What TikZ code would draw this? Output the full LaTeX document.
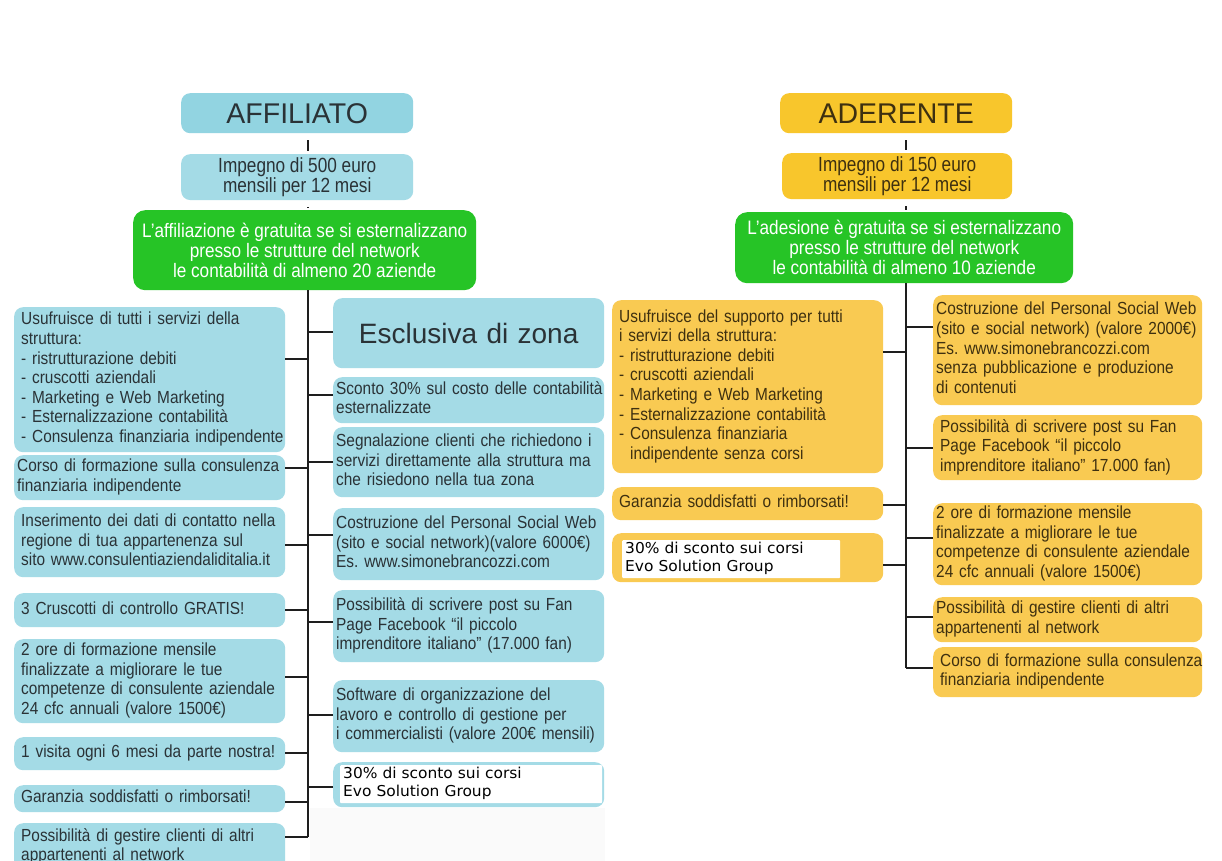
\documentclass[tikz,border=0pt]{standalone}
\usepackage{fontspec}
\setmainfont{Liberation Sans}[FakeStretch=0.88]
\newfontfamily\widef{Liberation Sans}
\newfontfamily\impf{Liberation Sans}[FakeStretch=0.84]
\newfontfamily\evof{DejaVu Sans}[FakeStretch=1.03]
\frenchspacing
\newcommand\lns[1]{\begin{tabular}{@{}l@{}}#1\end{tabular}}
\definecolor{cyanbox}{RGB}{164,219,230}
\definecolor{cyanhead}{RGB}{146,212,225}
\definecolor{goldbox}{RGB}{249,202,82}
\definecolor{goldhead}{RGB}{248,198,44}
\definecolor{greenbox}{RGB}{38,196,38}
\definecolor{cytext}{RGB}{42,50,54}
\definecolor{gdtext}{RGB}{62,48,16}
\definecolor{linec}{RGB}{30,30,30}
\tikzset{
  base/.style={rounded corners=9pt, inner xsep=7pt, inner ysep=1pt, align=left,
    font=\fontsize{17.5}{19.6}\selectfont, anchor=north west},
  cy/.style={base, fill=cyanbox, text=cytext},
  gd/.style={base, fill=goldbox, text=gdtext},
  head/.style={rounded corners=9pt, anchor=north west, align=center,
    font=\widef\fontsize{28.5}{30}\selectfont},
  imp/.style={rounded corners=9pt, anchor=north west, align=center,
    font=\impf\fontsize{20.5}{18.5}\selectfont},
  grn/.style={rounded corners=12pt, anchor=north west, align=center, fill=greenbox,
    text=white, font=\fontsize{19.5}{20}\selectfont},
  evo/.style={anchor=north west, fill=white, align=left, inner xsep=3pt, inner ysep=1pt,
    font=\evof\fontsize{15}{18}\selectfont, text=black, rounded corners=1pt},
  conn/.style={draw=linec, line width=1.4pt},
}
\begin{document}
\begin{tikzpicture}[x=1pt,y=-1pt]
\clip (0,0) rectangle (1222,861);
\fill[white] (0,0) rectangle (1222,861);
\fill[black!2] (310,808) rectangle (605,861);

% ---------------- LEFT: AFFILIATO ----------------
\node[head, fill=cyanhead, text=cytext, minimum width=232pt, minimum height=40pt] (aff) at (181,93) {AFFILIATO};
\node[imp, fill=cyanbox, text=cytext, minimum width=232pt, minimum height=43pt] (imp1) at (181,154) {Impegno di 500 euro\\mensili per 12 mesi};
\node[grn, minimum width=343pt, minimum height=80pt] (g1) at (133,210) {L'affiliazione è gratuita se si esternalizzano\\presso le strutture del network\\le contabilità di almeno 20 aziende};

\coordinate (tL) at (308,290);
\coordinate (tLend) at (308,837);

\node[cy, minimum width=271pt, minimum height=145pt, text width=257pt] (u1) at (14,307) {\lns{Usufruisce di tutti i servizi della\\struttura:\\- ristrutturazione debiti\\- cruscotti aziendali\\- Marketing e Web Marketing\\- Esternalizzazione contabilità\\- Consulenza finanziaria indipendente}};
\node[cy, minimum width=271pt, minimum height=45pt, text width=265pt, inner xsep=3pt] (u2) at (14,455) {\lns{Corso di formazione sulla consulenza\\finanziaria indipendente}};
\node[cy, minimum width=271pt, minimum height=70pt, text width=257pt] (u3) at (14,507) {\lns{Inserimento dei dati di contatto nella\\regione di tua appartenenza sul\\sito www.consulentiaziendaliditalia.it}};
\node[cy, minimum width=271pt, minimum height=34pt, text width=257pt] (u4) at (14,593) {\lns{3 Cruscotti di controllo GRATIS!}};
\node[cy, minimum width=271pt, minimum height=84pt, text width=257pt] (u5) at (14,639) {\lns{2 ore di formazione mensile\\finalizzate a migliorare le tue\\competenze di consulente aziendale\\24 cfc annuali (valore 1500€)}};
\node[cy, minimum width=271pt, minimum height=33pt, text width=257pt] (u6) at (14,737) {\lns{1 visita ogni 6 mesi da parte nostra!}};
\node[cy, minimum width=271pt, minimum height=27pt, text width=257pt] (u7) at (14,785) {\lns{Garanzia soddisfatti o rimborsati!}};
\node[cy, minimum width=271pt, minimum height=48pt, text width=257pt] (u8) at (14,823) {\lns{Possibilità di gestire clienti di altri\\appartenenti al network}};

\node[cy, minimum width=271pt, minimum height=70pt, text width=257pt, align=center,
  font=\widef\fontsize{28}{30}\selectfont] (m1) at (333,298) {Esclusiva di zona};
\node[cy, minimum width=271pt, minimum height=46pt, text width=265pt, inner xsep=3pt] (m2) at (333,377) {\lns{Sconto 30\% sul costo delle contabilità\\esternalizzate}};
\node[cy, minimum width=271pt, minimum height=70pt, text width=265pt, inner xsep=3pt] (m3) at (333,427) {\lns{Segnalazione clienti che richiedono i\\servizi direttamente alla struttura ma\\che risiedono nella tua zona}};
\node[cy, minimum width=271pt, minimum height=72pt, text width=265pt, inner xsep=3pt] (m4) at (333,508) {\lns{Costruzione del Personal Social Web\\(sito e social network)(valore 6000€)\\Es. www.simonebrancozzi.com}};
\node[cy, minimum width=271pt, minimum height=72pt, text width=265pt, inner xsep=3pt] (m5) at (333,590) {\lns{Possibilità di scrivere post su Fan\\Page Facebook “il piccolo\\imprenditore italiano” (17.000 fan)}};
\node[cy, minimum width=271pt, minimum height=72pt, text width=265pt, inner xsep=3pt] (m6) at (333,680) {\lns{Software di organizzazione del\\lavoro e controllo di gestione per\\i commercialisti (valore 200€ mensili)}};
\node[cy, minimum width=271pt, minimum height=45pt] (m7) at (333,762) {};
\node[evo, minimum width=262pt, minimum height=37pt, text width=256pt] (m7t) at (340,765) {\lns{30\% di sconto sui corsi\\Evo Solution Group}};

% connectors left
\draw[conn] ([yshift=-7pt]aff.south -| tL) -- ([yshift=3pt]imp1.north -| tL);
\draw[conn] ([yshift=-7pt]imp1.south -| tL) -- ([yshift=2pt]g1.north -| tL);
\draw[conn] (tL) -- (tLend);
\foreach \n/\yy in {u1/359,u2/468,u3/545,u4/610,u5/677,u6/753,u7/802}{
  \draw[conn] (\n.east |- 0,\yy) -- (tL |- 0,\yy);
}
\draw[conn] (u8.east |- tLend) -- (tLend);
\foreach \n/\yy in {m1/332,m2/395,m3/462,m4/535,m5/622,m6/715,m7/787}{
  \draw[conn] (\n.west |- 0,\yy) -- (tL |- 0,\yy);
}

% ---------------- RIGHT: ADERENTE ----------------
\node[head, fill=goldhead, text=gdtext, minimum width=232pt, minimum height=40pt] (ader) at (780,93) {ADERENTE};
\node[imp, fill=goldhead, text=gdtext, minimum width=230pt, minimum height=45pt] (imp2) at (782,153) {Impegno di 150 euro\\mensili per 12 mesi};
\node[grn, minimum width=338pt, minimum height=71pt] (g2) at (735,212) {L'adesione è gratuita se si esternalizzano\\presso le strutture del network\\le contabilità di almeno 10 aziende};

\coordinate (tR) at (906,283);
\coordinate (tRend) at (906,668);

\node[gd, minimum width=271pt, minimum height=173pt, text width=257pt] (a1) at (612,300) {\lns{Usufruisce del supporto per tutti\\i servizi della struttura:\\- ristrutturazione debiti\\- cruscotti aziendali\\- Marketing e Web Marketing\\- Esternalizzazione contabilità\\- Consulenza finanziaria\\\hphantom{- }indipendente senza corsi}};
\node[gd, minimum width=271pt, minimum height=33pt, text width=257pt] (a2) at (612,487) {\lns{Garanzia soddisfatti o rimborsati!}};
\node[gd, minimum width=271pt, minimum height=49pt] (a3) at (612,533) {};
\node[evo, minimum width=218pt, minimum height=38pt, text width=212pt] (a3t) at (622,540) {\lns{30\% di sconto sui corsi\\Evo Solution Group}};

\node[gd, minimum width=269pt, minimum height=110pt, text width=263pt, inner xsep=3pt] (b1) at (933,295) {\lns{Costruzione del Personal Social Web\\(sito e social network) (valore 2000€)\\Es. www.simonebrancozzi.com\\senza pubblicazione e produzione\\di contenuti}};
\node[gd, minimum width=269pt, minimum height=65pt, text width=255pt] (b2) at (933,415) {\lns{Possibilità di scrivere post su Fan\\Page Facebook “il piccolo\\imprenditore italiano” 17.000 fan)}};
\node[gd, minimum width=269pt, minimum height=82pt, text width=263pt, inner xsep=3pt] (b3) at (933,503) {\lns{2 ore di formazione mensile\\finalizzate a migliorare le tue\\competenze di consulente aziendale\\24 cfc annuali (valore 1500€)}};
\node[gd, minimum width=269pt, minimum height=45pt, text width=263pt, inner xsep=3pt] (b4) at (933,597) {\lns{Possibilità di gestire clienti di altri\\appartenenti al network}};
\node[gd, minimum width=269pt, minimum height=50pt, text width=255pt] (b5) at (933,647) {\lns{Corso di formazione sulla consulenza\\finanziaria indipendente}};

% connectors right
\draw[conn] ([yshift=-7pt]ader.south -| tR) -- ([yshift=3pt]imp2.north -| tR);
\draw[conn] ([yshift=-7pt]imp2.south -| tR) -- ([yshift=2pt]g2.north -| tR);
\draw[conn] (tR) -- (tRend);
\foreach \n/\yy in {a1/352,a2/505,a3/565}{
  \draw[conn] (\n.east |- 0,\yy) -- (tR |- 0,\yy);
}
\foreach \n/\yy in {b1/327,b2/448,b3/538,b4/617}{
  \draw[conn] (\n.west |- 0,\yy) -- (tR |- 0,\yy);
}
\draw[conn] (b5.west |- tRend) -- (tRend);
\end{tikzpicture}
\end{document}
